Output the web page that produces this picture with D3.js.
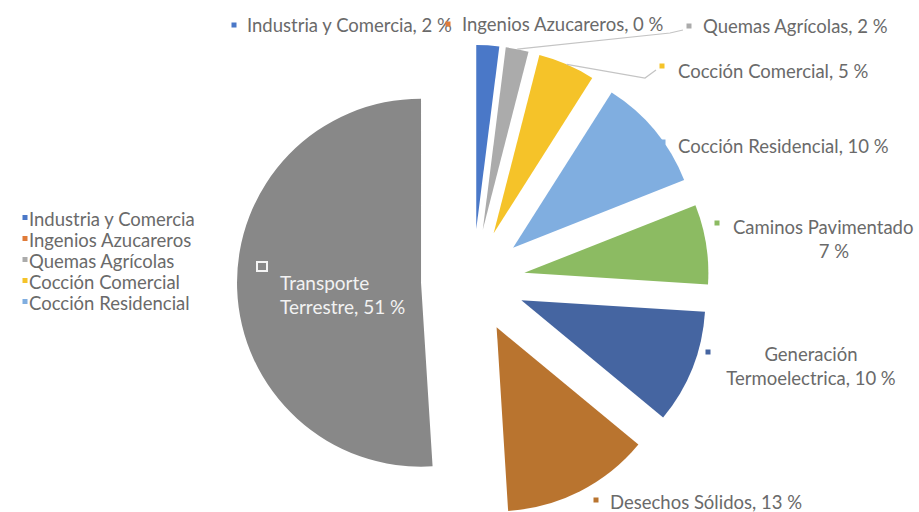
<!DOCTYPE html>
<html>
<head>
<meta charset="utf-8">
<script src="https://cdn.jsdelivr.net/npm/d3@7"></script>
<style>
  html, body { margin: 0; padding: 0; background: #ffffff; }
  svg { display: block; font-family: Lato, "Open Sans", sans-serif; }
</style>
</head>
<body>
<svg id="chart" width="919" height="512"></svg>
<script>
// Emission shares by source (%), clockwise from 12 o'clock
const categories = [
  "Industria y Comercia",
  "Ingenios Azucareros",
  "Quemas Agrícolas",
  "Cocción Comercial",
  "Cocción Residencial",
  "Caminos Pavimentado",
  "Generación Termoelectrica",
  "Desechos Sólidos",
  "Transporte Terrestre"
];
const shares = [2, 0, 2, 5, 10, 7, 10, 13, 51];
const sliceColors = [
  "#4a78c8", "#e07b39", "#ababab", "#f5c329", "#80aee0",
  "#8cbb62", "#4565a1", "#b9742f", "#888888"
];
// Only the first five entries fit in the legend box
const legendCount = 5;

// ---- layout ----
const W = 919, H = 512;
const center = { x: 473, y: 281 };
const radius = 184;
const explode = 52;
const fontSize = 18.5;
const textColor = "#6a6a6a";
const leaderColor = "#c4c4c4";

// Label placement per slice: marker position, text anchor point, alignment,
// and how the label wraps: null = one line, number = break after that many
// words, "value" = name on the first line and the value on the second
const labelLayout = [
  { marker: [234, 25], x: 247, y: 26, anchor: "start", wrap: null },
  { marker: [448, 24], x: 462, y: 25, anchor: "start", wrap: null },
  { marker: [689, 26], x: 703, y: 27, anchor: "start", wrap: null, leaderTo: [670, 33] },
  { marker: [662, 66], x: 678, y: 72, anchor: "start", wrap: null, leaderTo: [645, 78] },
  { marker: [663, 142], x: 678, y: 147, anchor: "start", wrap: null },
  { marker: [717, 223], x: 834, y: 228, anchor: "middle", wrap: "value", firstLineX: 733 },
  { marker: [708, 352], x: 811, y: 355, anchor: "middle", wrap: 1 },
  { marker: [596, 500], x: 610, y: 503, anchor: "start", wrap: null },
  { marker: [262, 267], x: 280, y: 283, anchor: "start", wrap: 1, inside: true }
];
const lineGap = 24;

const svg = d3.select("#chart");

const data = categories.map((name, i) => ({ name, value: shares[i], color: sliceColors[i] }));
const pie = d3.pie().sort(null).value(d => d.value).startAngle(0).endAngle(2 * Math.PI);
const arcs = pie(data);
const arcGen = d3.arc().innerRadius(0).outerRadius(radius);

// direction unit vector for a d3 arc angle (clockwise from 12 o'clock)
const dir = a => [Math.sin(a), -Math.cos(a)];

arcs.forEach(a => {
  const mid = (a.startAngle + a.endAngle) / 2;
  const [ux, uy] = dir(mid);
  a.vx = center.x + explode * ux;
  a.vy = center.y + explode * uy;
  a.mid = mid;
});

// slices, each pulled out along its bisector
svg.append("g")
  .selectAll("path")
  .data(arcs.filter(a => a.value > 0))
  .join("path")
  .attr("transform", a => `translate(${a.vx},${a.vy})`)
  .attr("d", arcGen)
  .attr("fill", a => a.data.color);

// leader lines from slice edge to label
const leaders = svg.append("g").attr("fill", "none").attr("stroke", leaderColor).attr("stroke-width", 1.2);
arcs.forEach((a, i) => {
  const L = labelLayout[i];
  if (!L.leaderTo) return;
  const [ux, uy] = dir(a.mid);
  const sx = a.vx + radius * ux, sy = a.vy + radius * uy;
  leaders.append("path")
    .attr("d", d3.line()([[sx, sy], L.leaderTo, [L.marker[0] - 6, L.marker[1] + 4]]));
});

// data labels with legend keys
const labels = svg.append("g").attr("font-size", fontSize);
arcs.forEach((a, i) => {
  const L = labelLayout[i];
  const valueText = `${a.data.value} %`;
  const full = `${a.data.name}, ${valueText}`;
  let lines = [full];
  if (L.wrap === "value") {
    lines = [a.data.name, valueText];
  } else if (L.wrap) {
    const words = full.split(" ");
    lines = [words.slice(0, L.wrap).join(" "), words.slice(L.wrap).join(" ")];
  }
  // key marker
  if (L.inside) {
    labels.append("rect")
      .attr("x", L.marker[0] - 4).attr("y", L.marker[1] - 4)
      .attr("width", 8).attr("height", 7)
      .attr("fill", a.data.color);
    labels.append("rect")
      .attr("x", L.marker[0] - 5).attr("y", L.marker[1] - 5)
      .attr("width", 10).attr("height", 9)
      .attr("fill", "none").attr("stroke", "#f4f4f4").attr("stroke-width", 2);
  } else {
    labels.append("rect")
      .attr("x", L.marker[0] - 2.5).attr("y", L.marker[1] - 2.5)
      .attr("width", 5).attr("height", 5)
      .attr("fill", a.data.color);
  }
  lines.forEach((ln, k) => {
    const ownStart = k === 0 && L.firstLineX !== undefined;
    labels.append("text")
      .attr("x", ownStart ? L.firstLineX : L.x)
      .attr("y", L.y + k * lineGap)
      .attr("dy", "0.35em")
      .attr("text-anchor", ownStart ? "start" : L.anchor)
      .attr("fill", L.inside ? "#f2f2f2" : textColor)
      .attr("font-size", L.inside ? 19 : null)
      .text(ln);
  });
});

// legend
const legendRow = 21;
const legend = svg.append("g").attr("font-size", fontSize)
  .attr("transform", "translate(25,220)");
const items = legend.selectAll("g")
  .data(data.slice(0, legendCount))
  .join("g")
  .attr("transform", (d, i) => `translate(0,${i * legendRow})`);
items.append("rect")
  .attr("x", -2.5).attr("y", -5).attr("width", 5).attr("height", 5)
  .attr("fill", d => d.color);
items.append("text")
  .attr("x", 4).attr("dy", "0.35em")
  .attr("fill", textColor)
  .text(d => d.name);
</script>
</body>
</html>
